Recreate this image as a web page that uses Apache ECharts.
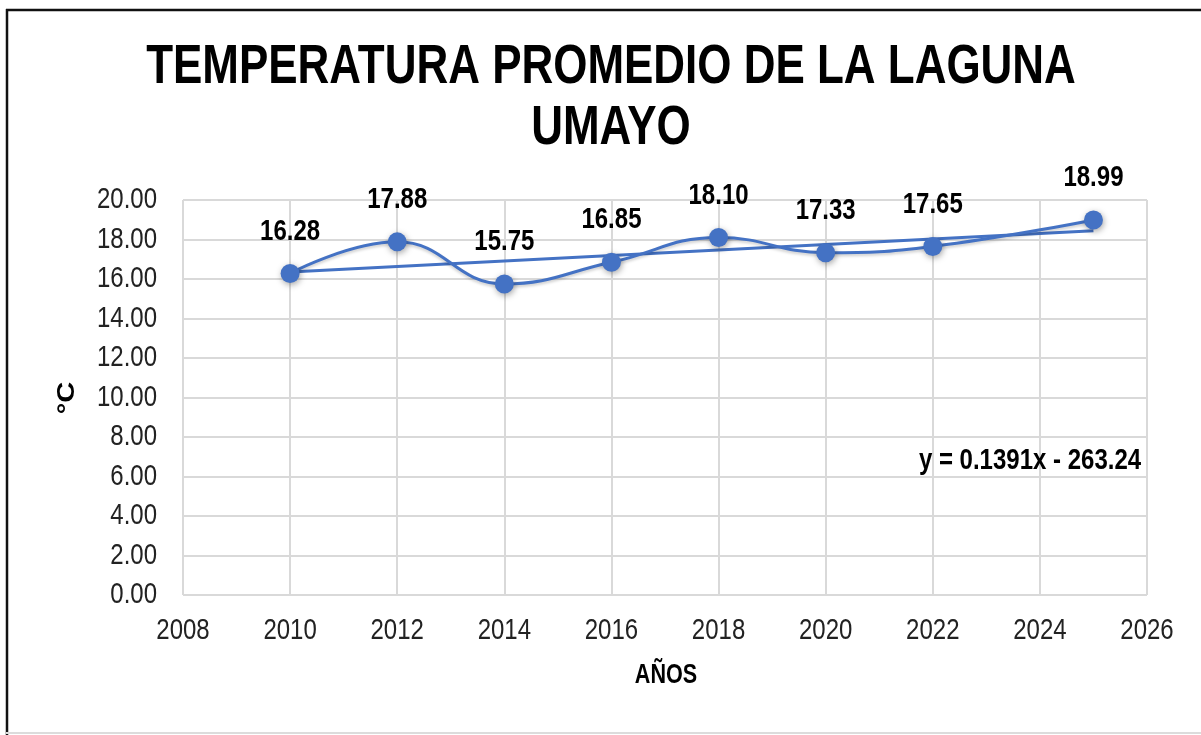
<!DOCTYPE html>
<html>
<head>
<meta charset="utf-8">
<script src="https://cdn.jsdelivr.net/npm/echarts@6/dist/echarts.min.js"></script>
<style>
html,body{margin:0;padding:0;background:#fff;}
#chart{position:absolute;left:0;top:0;width:1201px;height:735px;}
</style>
</head>
<body>
<div id="chart"></div>
<script>
const years = [2010, 2012, 2014, 2016, 2018, 2020, 2022, 2025];
const temps = [16.28, 17.88, 15.75, 16.85, 18.10, 17.33, 17.65, 18.99];
const xTickValues = [2008, 2010, 2012, 2014, 2016, 2018, 2020, 2022, 2024, 2026];
const yTickValues = [0, 2, 4, 6, 8, 10, 12, 14, 16, 18, 20];
const trendSlope = 0.1391;
const trendIntercept = -263.24;
const trendLabel = 'y = 0.1391x - 263.24';
const titleText = 'TEMPERATURA PROMEDIO DE LA LAGUNA\nUMAYO';
const xName = 'AÑOS';
const yName = '°C';

const FONT = "'Liberation Sans', Arial, sans-serif";
const NARROW = 0.8;   // emulate a narrow face
const BLUE = '#4472C4';

const x0 = years[0], x1 = years[years.length - 1];
const trendData = [[x0, trendSlope * x0 + trendIntercept], [x1, trendSlope * x1 + trendIntercept]];

function narrowText(x, y, text, size, bold, align, color, extra) {
  const el = {
    type: 'text', x: x, y: y, scaleX: NARROW, scaleY: 1,
    style: {
      text: text, fill: color || '#000', align: align || 'center', verticalAlign: 'middle',
      font: (bold ? 'bold ' : '') + size + 'px ' + FONT
    }
  };
  return Object.assign(el, extra || {});
}

const chart = echarts.init(document.getElementById('chart'), null, {renderer: 'canvas'});
chart.setOption({
  backgroundColor: '#fff',
  animation: false,
  grid: {left: 183, right: 54, top: 200, bottom: 140},
  xAxis: {
    type: 'value', min: 2008, max: 2026, interval: 2,
    axisLine: {show: false}, axisTick: {show: false}, axisLabel: {show: false},
    splitLine: {show: true, lineStyle: {color: '#d9d9d9', width: 2}}
  },
  yAxis: {
    type: 'value', min: 0, max: 20, interval: 2,
    axisLine: {show: false}, axisTick: {show: false}, axisLabel: {show: false},
    splitLine: {show: true, lineStyle: {color: '#d9d9d9', width: 2}}
  },
  graphic: [
    {type: 'line', z: 100, shape: {x1: 6, y1: 10, x2: 1201, y2: 10}, style: {stroke: '#111', lineWidth: 2.5}},
    {type: 'line', z: 100, shape: {x1: 7, y1: 9, x2: 7, y2: 735}, style: {stroke: '#111', lineWidth: 2.5}},
    {type: 'line', z: 100, shape: {x1: 6, y1: 733, x2: 1201, y2: 733}, style: {stroke: '#dcdcdc', lineWidth: 2}},
    narrowText(611, 98, titleText, 56, true, 'center', '#000', {scaleX: 0.785, z: 100, style: {
      text: titleText, fill: '#000', align: 'center', verticalAlign: 'middle', lineHeight: 61,
      font: 'bold 56px ' + FONT
    }}),
    narrowText(666, 676, xName, 27, true, 'center', '#000', {z: 100}),
    narrowText(68, 398, yName, 29, true, 'center', '#000', {rotation: Math.PI / 2, scaleX: 1, scaleY: NARROW, z: 100}),
    narrowText(1030, 461, trendLabel, 30, true, 'center', '#000', {z: 100})
  ],
  series: [
    {
      type: 'line', data: trendData, symbol: 'none', silent: true,
      lineStyle: {color: BLUE, width: 3},
      z: 2
    },
    {
      type: 'line', data: years.map((y, i) => [y, temps[i]]), smooth: 0.45,
      symbol: 'circle', symbolSize: 19,
      itemStyle: {color: BLUE, shadowColor: 'rgba(0,0,0,0.35)', shadowBlur: 6, shadowOffsetX: 1, shadowOffsetY: 2},
      lineStyle: {color: BLUE, width: 3, shadowColor: 'rgba(0,0,0,0.2)', shadowBlur: 3, shadowOffsetY: 2},
      z: 3
    },
    {
      type: 'custom', silent: true, z: 4,
      data: years.map((y, i) => [y, temps[i]]),
      renderItem: function (params, api) {
        const p = api.coord([api.value(0), api.value(1)]);
        return narrowText(p[0], p[1] - 42, api.value(1).toFixed(2), 30, true, 'center');
      }
    },
    {
      type: 'custom', silent: true, z: 4,
      data: xTickValues.map(v => [v, 0]),
      renderItem: function (params, api) {
        const p = api.coord([api.value(0), 0]);
        return narrowText(p[0], p[1] + 36, String(api.value(0)), 30, false, 'center', '#222');
      }
    },
    {
      type: 'custom', silent: true, z: 4,
      data: yTickValues.map(v => [2008, v]),
      renderItem: function (params, api) {
        const p = api.coord([2008, api.value(1)]);
        return narrowText(p[0] - 26, p[1], api.value(1).toFixed(2), 30, false, 'right', '#222');
      }
    }
  ]
});
</script>
</body>
</html>
